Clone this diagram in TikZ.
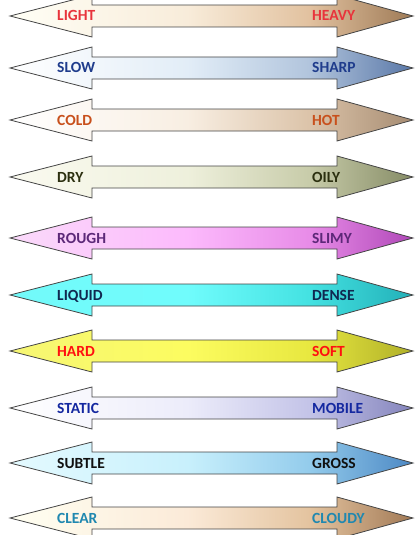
\documentclass[tikz,border=0pt]{standalone}
\usepackage{fontspec}
\setmainfont{Carlito}[BoldFont={Carlito Bold}]
\definecolor{edge}{HTML}{454545}
% shadings: 25bp..75bp covers the arrow's bounding box
\newcommand\mkshade[5]{%
  \definecolor{#1a}{HTML}{#2}\definecolor{#1b}{HTML}{#3}%
  \definecolor{#1c}{HTML}{#4}\definecolor{#1d}{HTML}{#5}%
  \pgfdeclarehorizontalshading{#1}{100bp}{color(0bp)=(#1a); color(25bp)=(#1a); color(47bp)=(#1b); color(62bp)=(#1c); color(75bp)=(#1d); color(100bp)=(#1d)}}
\mkshade{shA}{FFFFF6}{F8ECDA}{E2C2A0}{9E7A56}
\mkshade{shB}{FFFFFF}{E2EDF7}{B2C5DD}{5A78A8}
\mkshade{shC}{FFFFFF}{F8EEE2}{DCC4AA}{A68C72}
\mkshade{shD}{FAFAF0}{EEF0DC}{C8CCAA}{868C66}
\mkshade{shE}{FADAFA}{FCBAFC}{E88CE8}{B048B8}
\mkshade{shF}{72FAFA}{70FCFC}{44E2E2}{22B0B8}
\mkshade{shG}{F6F674}{FCFC60}{E8E840}{B0B028}
\mkshade{shH}{FFFFFF}{ECECFA}{C4C4E8}{8484BC}
\mkshade{shI}{E4FAFF}{C8F0FC}{94CCEC}{4C88C4}
\mkshade{shJ}{FFFFF2}{FBEAD8}{E4C4A0}{A27A56}
\definecolor{tA}{HTML}{E8343C}
\definecolor{tB}{HTML}{1F3C8C}
\definecolor{tC}{HTML}{C8501C}
\definecolor{tD}{HTML}{2C3010}
\definecolor{tE}{HTML}{5C2878}
\definecolor{tF}{HTML}{102850}
\definecolor{tG}{HTML}{FF1010}
\definecolor{tH}{HTML}{1428A0}
\definecolor{tI}{HTML}{101010}
\definecolor{tJ}{HTML}{2088B0}
\tikzset{
  arrowshape/.style={draw=edge, line width=0.8pt, line join=miter},
  lbl/.style={inner sep=0pt, font=\fontsize{15.5}{18}\selectfont\bfseries},
}
% #1 centre y, #2 id, #3 left text, #4 right text
\newcommand\dualarrow[4]{%
  \shadedraw[arrowshape, shading=sh#2]
    (10,#1) -- (92,#1-21) -- (92,#1-11) -- (337,#1-11) -- (337,#1-21)
    -- (413,#1) -- (337,#1+21) -- (337,#1+11) -- (92,#1+11) -- (92,#1+21) -- cycle;
  \node[lbl, text=t#2, anchor=base west] (l#2) at (57,#1+5) {#3};
  \node[lbl, text=t#2, anchor=base west] (r#2) at (312,#1+5) {#4};
}
\begin{document}
\begin{tikzpicture}[x=1pt,y=-1pt]
\useasboundingbox (0,0) rectangle (415,535);
\dualarrow{16}{A}{LIGHT}{HEAVY}
\dualarrow{68}{B}{SLOW}{SHARP}
\dualarrow{120}{C}{COLD}{HOT}
\dualarrow{177}{D}{DRY}{OILY}
\dualarrow{238}{E}{ROUGH}{SLIMY}
\dualarrow{295}{F}{LIQUID}{DENSE}
\dualarrow{351}{G}{HARD}{SOFT}
\dualarrow{408}{H}{STATIC}{MOBILE}
\dualarrow{463}{I}{SUBTLE}{GROSS}
\dualarrow{518}{J}{CLEAR}{CLOUDY}
\end{tikzpicture}
\end{document}
